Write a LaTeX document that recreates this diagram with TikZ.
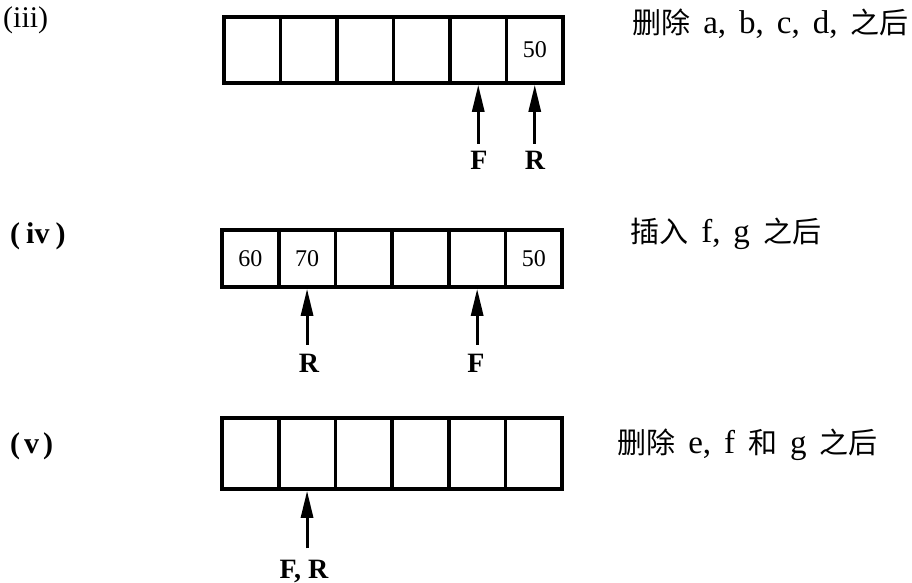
\documentclass[tikz,border=0pt]{standalone}
\usepackage{fontspec}
\setmainfont{Liberation Serif}
\newfontfamily\cjk{Noto Sans CJK SC}[Scale=0.88]
\usetikzlibrary{arrows.meta}
\newcommand\widespaces{\spaceskip=13pt\relax}
\begin{document}
\begin{tikzpicture}[x=1pt,y=-1pt,
  cell/.style={draw, line width=3.6pt, inner sep=0pt, outer sep=0pt, minimum width=56.5pt,
    font=\fontsize{24}{26}\selectfont},
  ptr/.style={line width=3pt, -{Triangle[length=27pt,width=12pt]}, shorten >=1.8pt},
  ptrlab/.style={inner sep=0pt, font=\fontsize{28}{30}\selectfont\bfseries},
  rowlab/.style={anchor=west, inner sep=0pt, font=\fontsize{30}{32}\selectfont},
  note/.style={anchor=west, inner sep=0pt, font=\fontsize{33}{35}\selectfont}]
\useasboundingbox (0,0) rectangle (912,583);
% ---------- row (iii)
\node[rowlab] (l3) at (3,20) {(iii)};
\foreach \i/\t in {1/,2/,3/,4/,5/,6/50}
  \node[cell, minimum height=66pt] (a\i) at ({224+28.25+56.5*(\i-1)},50) {\t};
\node[ptrlab] (a3F) at (479,160) {F};
\node[ptrlab] (a3R) at (535,160) {R};
\draw[ptr] ([yshift=7pt]a3F.north -| a5.south) -- (a5.south);
\draw[ptr] ([yshift=7pt]a3R.north -| a6.south) -- (a6.south);
\node[note] (n3) at (632,24) {\widespaces{\cjk 删除} a, b, c, d, {\cjk 之后}};
% ---------- row (iv)
\node[rowlab] (l4) at (10,236) {\bfseries(\hspace{6pt}iv\hspace{6pt})};
\foreach \i/\t in {1/60,2/70,3/,4/,5/,6/50}
  \node[cell, minimum height=57pt, minimum width=56.7pt] (b\i) at ({222+28.35+56.7*(\i-1)},258.5) {\t};
\node[ptrlab] (b4R) at (309,363) {R};
\node[ptrlab] (b4F) at (476,363) {F};
\draw[ptr] ([yshift=9pt]b4R.north -| b2.south) -- (b2.south);
\draw[ptr] ([yshift=9pt]b4F.north -| b5.south) -- (b5.south);
\node[note] (n4) at (630,234) {\widespaces{\cjk 插入} f, g {\cjk 之后}};
% ---------- row (v)
\node[rowlab] (l5) at (10,446) {\bfseries(\hspace{4pt}v\hspace{4pt})};
\foreach \i in {1,...,6}
  \node[cell, minimum height=71pt, minimum width=56.7pt] (c\i) at ({222+28.35+56.7*(\i-1)},453.5) {};
\node[ptrlab] (c5FR) at (304,571) {F, R};
\draw[ptr] ([yshift=11pt]c5FR.north -| c2.south) -- (c2.south);
\node[note] (n5) at (617,445) {\spaceskip=13pt\relax{\cjk 删除} e, f {\cjk 和} g {\cjk 之后}};
\end{tikzpicture}
\end{document}
